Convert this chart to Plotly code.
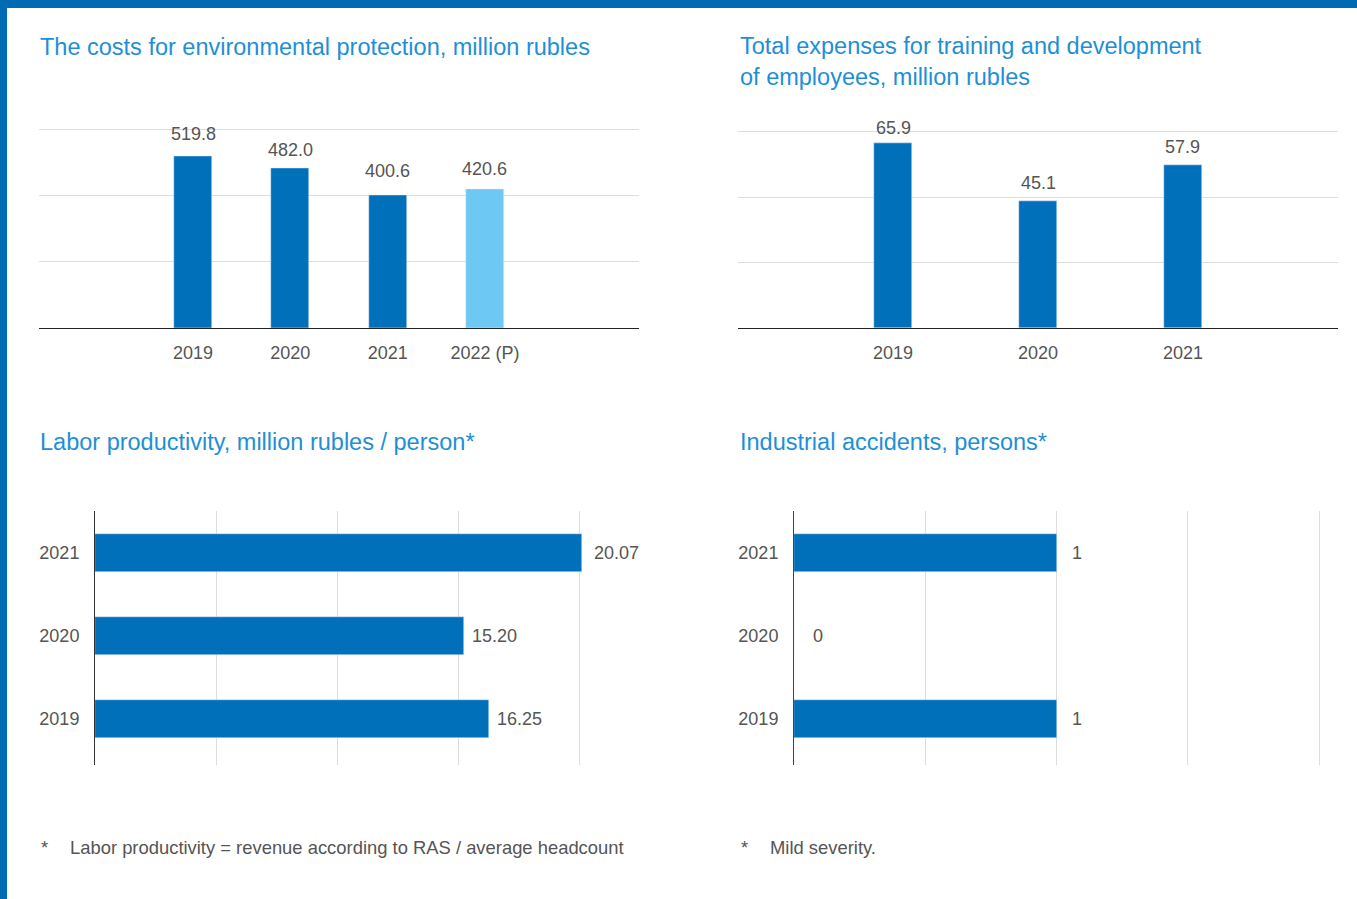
import plotly.graph_objects as go

# ---- data ----
env_years = ["2019", "2020", "2021", "2022 (P)"]
env_costs = [519.8, 482.0, 400.6, 420.6]

train_years = ["2019", "2020", "2021"]
train_costs = [65.9, 45.1, 57.9]

prod_years = ["2019", "2020", "2021"]
prod_values = [16.25, 15.20, 20.07]

acc_years = ["2019", "2020", "2021"]
acc_values = [1, 0, 1]

titles = [
    "The costs for environmental protection, million rubles",
    "Total expenses for training and development<br>of employees, million rubles",
    "Labor productivity, million rubles / person*",
    "Industrial accidents, persons*",
]
notes = [
    "Labor productivity = revenue according to RAS / average headcount",
    "Mild severity.",
]

# ---- style ----
W, H = 1357, 899
FONT = "Liberation Sans, Arial, Helvetica, sans-serif"
DARK = "#0070BA"
LIGHT = "#6DC8F3"
TITLE_C = "#1E8FD5"
TEXT_C = "#555555"
GRID_C = "#DDDDDD"
BORDER_C = "#006AB4"

# label offsets (pixels) from the bar ends
env_label_shift = [22.5, 18.3, 24, 20.2]
train_label_shift = [15.5, 18, 18]
prod_label_shift = [6, 6, 10]
acc_label_shift = [13, 17, 13]


def px_x(p):
    return p / W


def px_y(p):
    return 1 - p / H


fig = go.Figure()

# vertical bars: environmental costs
fig.add_trace(go.Bar(
    x=env_years, y=env_costs, xaxis="x", yaxis="y",
    marker_color=[DARK, DARK, DARK, LIGHT], width=0.39,
    hoverinfo="skip",
))
# vertical bars: training expenses
fig.add_trace(go.Bar(
    x=train_years, y=train_costs, xaxis="x2", yaxis="y2",
    marker_color=DARK, width=0.262, hoverinfo="skip",
))
# horizontal bars: labor productivity
fig.add_trace(go.Bar(
    x=prod_values, y=prod_years, orientation="h", xaxis="x3", yaxis="y3",
    marker_color=DARK, width=0.458, hoverinfo="skip",
))
# horizontal bars: industrial accidents
fig.add_trace(go.Bar(
    x=acc_values, y=acc_years, orientation="h", xaxis="x4", yaxis="y4",
    marker_color=DARK, width=0.458, hoverinfo="skip",
))

tick_font = dict(family=FONT, size=18, color=TEXT_C)

fig.update_layout(
    width=W, height=H,
    margin=dict(l=0, r=0, t=0, b=0),
    paper_bgcolor="white", plot_bgcolor="white",
    showlegend=False,
    bargap=0,
    font=dict(family=FONT, color=TEXT_C),
    # environmental costs (0..600, grid every 200)
    xaxis=dict(type="category", domain=[px_x(39), px_x(639)], anchor="y",
               range=[-1.583, 4.583], showline=True, linecolor="#222222",
               linewidth=1, showgrid=False, ticks="", tickfont=tick_font,
               ticklabelstandoff=8, fixedrange=True),
    yaxis=dict(domain=[px_y(328), px_y(126.2)], anchor="x",
               range=[0, 610], tickvals=[200, 400, 600], showticklabels=False,
               showgrid=True, gridcolor=GRID_C, zeroline=False, fixedrange=True),
    # training expenses (0..70, three equal divisions)
    xaxis2=dict(type="category", domain=[px_x(738), px_x(1338)], anchor="y2",
                range=[-1.07, 3.07], showline=True, linecolor="#222222",
                linewidth=1, showgrid=False, ticks="", tickfont=tick_font,
                ticklabelstandoff=8, fixedrange=True),
    yaxis2=dict(domain=[px_y(328), px_y(130.1)], anchor="x2",
                range=[0, 70.5], tickvals=[70 / 3, 140 / 3, 70],
                showticklabels=False, showgrid=True, gridcolor=GRID_C,
                zeroline=False, fixedrange=True),
    # labor productivity (0..20, grid every 5)
    xaxis3=dict(domain=[px_x(95), px_x(582.4)], anchor="y3",
                range=[0, 20.1], tickvals=[5, 10, 15, 20],
                showticklabels=False, showgrid=True, gridcolor=GRID_C,
                zeroline=False, fixedrange=True),
    yaxis3=dict(type="category", domain=[px_y(765), px_y(511)], anchor="x3",
                range=[-0.554, 2.506], showline=True, linecolor="#333333",
                linewidth=1, showgrid=False, ticks="", tickfont=tick_font,
                ticklabelstandoff=11, fixedrange=True),
    # industrial accidents (0..2, grid every 0.5)
    xaxis4=dict(domain=[px_x(794), px_x(1324.3)], anchor="y4",
                range=[0, 2.02], tickvals=[0.5, 1, 1.5, 2],
                showticklabels=False, showgrid=True, gridcolor=GRID_C,
                zeroline=False, fixedrange=True),
    yaxis4=dict(type="category", domain=[px_y(765), px_y(511)], anchor="x4",
                range=[-0.554, 2.506], showline=True, linecolor="#444444",
                linewidth=1, showgrid=False, ticks="", tickfont=tick_font,
                ticklabelstandoff=11, fixedrange=True),
)

annotations = []
val_font = dict(family=FONT, size=18, color=TEXT_C)

# value labels (category positions given by index)
for i, (v, s) in enumerate(zip(env_costs, env_label_shift)):
    annotations.append(dict(x=i, y=v, xref="x", yref="y", text=f"{v:.1f}",
                            showarrow=False, yanchor="middle", yshift=s,
                            font=val_font))
for i, (v, s) in enumerate(zip(train_costs, train_label_shift)):
    annotations.append(dict(x=i, y=v, xref="x2", yref="y2", text=f"{v:.1f}",
                            showarrow=False, yanchor="middle", yshift=s,
                            font=val_font))
for i, (v, s) in enumerate(zip(prod_values, prod_label_shift)):
    annotations.append(dict(x=v, y=i, xref="x3", yref="y3", text=f"{v:.2f}",
                            showarrow=False, xanchor="left", xshift=s,
                            font=val_font))
for i, (v, s) in enumerate(zip(acc_values, acc_label_shift)):
    annotations.append(dict(x=v, y=i, xref="x4", yref="y4", text=f"{v}",
                            showarrow=False, xanchor="left", xshift=s,
                            font=val_font))

# panel titles
title_font = dict(family=FONT, size=23.5, color=TITLE_C)
title_pos = [(38, 47), (738, 61.5), (38, 442), (738, 442)]
for t, (tx, ty) in zip(titles, title_pos):
    annotations.append(dict(x=px_x(tx), y=px_y(ty), xref="paper", yref="paper",
                            text=t, showarrow=False, xanchor="left",
                            yanchor="middle", align="left", font=title_font))

# footnotes
note_font = dict(family=FONT, size=18.4, color=TEXT_C)
for n, (sx, nx) in zip(notes, [(39, 68), (739, 768)]):
    annotations.append(dict(x=px_x(sx), y=px_y(847), xref="paper", yref="paper",
                            text="*", showarrow=False, xanchor="left",
                            yanchor="middle", font=note_font))
    annotations.append(dict(x=px_x(nx), y=px_y(847), xref="paper", yref="paper",
                            text=n, showarrow=False, xanchor="left",
                            yanchor="middle", font=note_font))

fig.update_layout(annotations=annotations)

# page frame: blue bands along top and left edges
fig.add_shape(type="rect", xref="paper", yref="paper", x0=0, x1=px_x(7),
              y0=0, y1=1, fillcolor=BORDER_C, line_width=0, layer="above")
fig.add_shape(type="rect", xref="paper", yref="paper", x0=0, x1=1,
              y0=px_y(8), y1=1, fillcolor=BORDER_C, line_width=0, layer="above")

fig.write_html("out.html", config={"displayModeBar": False})
